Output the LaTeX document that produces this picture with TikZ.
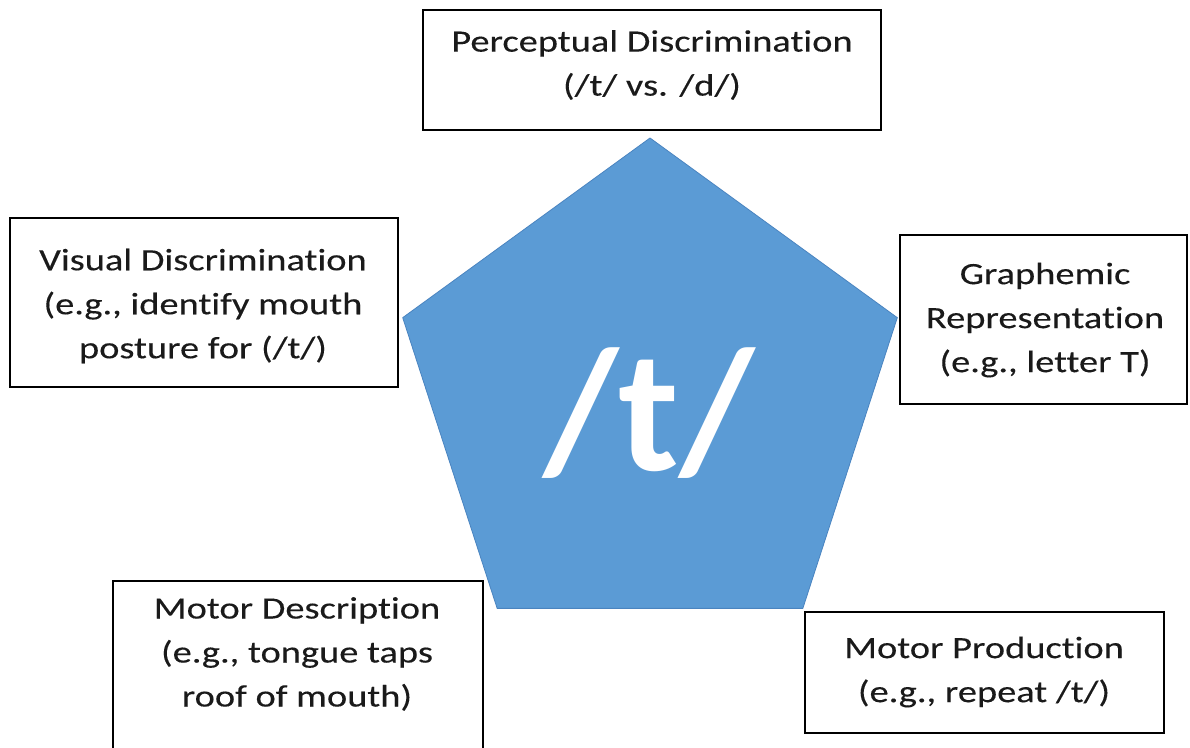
\documentclass[tikz,border=0pt]{standalone}
\usepackage{fontspec}
\setmainfont{Carlito}[Ligatures={NoCommon}]
\newfontfamily\widefont{Carlito}[FakeStretch=1.24,Ligatures={NoCommon},FakeBold=0.2]
\usetikzlibrary{shapes.geometric}
\definecolor{pentfill}{HTML}{5B9BD5}
\definecolor{pentline}{HTML}{4A84C0}
\definecolor{txtcol}{HTML}{1A1A1A}
\begin{document}
\begin{tikzpicture}[x=1pt,y=-1pt,
  box/.style={draw=black,line width=1.5pt,rectangle,inner sep=0pt,outer sep=0pt,anchor=north west},
  lbl/.style={align=center,text=txtcol,font=\widefont\fontsize{31}{44}\selectfont,inner sep=0pt},
  pent/.style={regular polygon,regular polygon sides=5,minimum size=520pt,inner sep=0pt,outer sep=0pt,fill=pentfill,draw=pentline,line width=0.8pt}]
\useasboundingbox (0,0) rectangle (1190,747);
\clip (0,0) rectangle (1190,747);
% boxes
\node[box,minimum width=458pt,minimum height=120pt] (topbox) at (423,10) {};
\node[box,minimum width=388pt,minimum height=169pt] (leftbox) at (10,218) {};
\node[box,minimum width=287pt,minimum height=169pt] (rightbox) at (900,235) {};
\node[box,minimum width=370pt,minimum height=200pt] (blbox) at (113,581) {};
\node[box,minimum width=359pt,minimum height=121pt] (brbox) at (805,612) {};
% pentagon
\node[pent] (pent) at (650,398) {};
\node[text=white,font=\fontsize{175}{175}\selectfont\bfseries,inner sep=0pt,anchor=base] (tsym) at (649,470) {/t/};
% labels
\node[lbl] (toptext) at (652,65) {Perceptual Discrimination\\(/t/ vs. /d/)};
\node[lbl] (lefttext) at (203,306) {Visual Discrimination\\(e.g., identify mouth\\posture for (/t/)};
\node[lbl] (righttext) at (1045,320) {Graphemic\\Representation\\(e.g., letter T)};
\node[lbl] (bltext) at (297,654) {Motor Description\\(e.g., tongue taps\\roof of mouth)};
\node[lbl] (brtext) at (984,672) {Motor Production\\(e.g., repeat /t/)};
\end{tikzpicture}
\end{document}
